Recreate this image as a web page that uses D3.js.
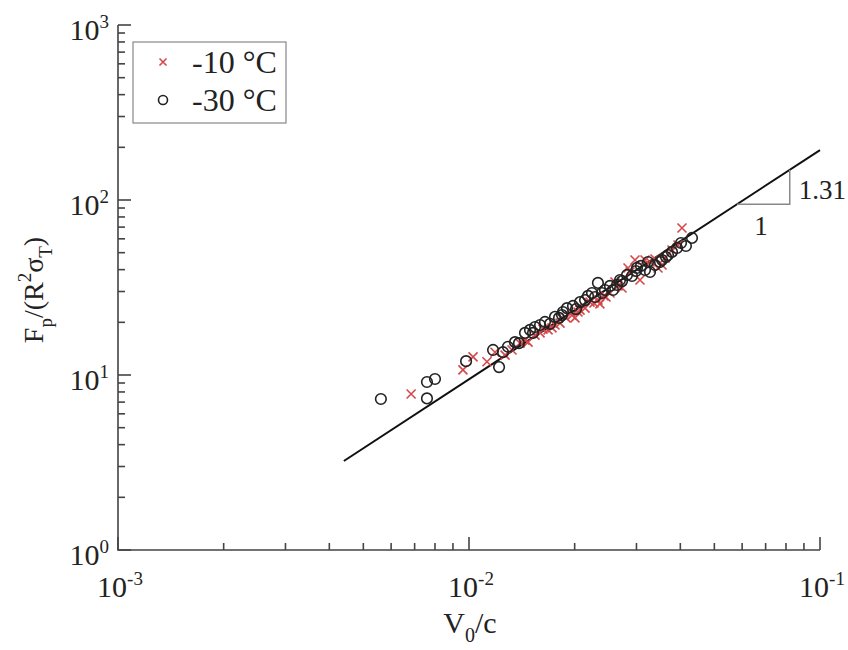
<!DOCTYPE html>
<html>
<head>
<meta charset="utf-8">
<script src="https://cdn.jsdelivr.net/npm/d3@7"></script>
<style>
  body { margin: 0; background: #fff; }
  svg text { font-family: "Liberation Serif", "Times New Roman", serif; fill: #222; }
</style>
</head>
<body>
<div id="chart"></div>
<script>
// -10 °C points [V0/c, Fp/(R^2 sigmaT)]
const warmPts = [
  [0.00684, 7.79], [0.00961, 10.7], [0.01027, 12.7], [0.01125, 11.9], [0.01186, 13.5],
  [0.01267, 13.0], [0.01326, 13.9], [0.01397, 15.2], [0.01444, 15.8], [0.01473, 15.4],
  [0.01542, 16.9], [0.01594, 17.4], [0.01625, 18.3], [0.01680, 18.1], [0.01724, 18.6],
  [0.01758, 19.3], [0.01817, 19.8], [0.01890, 21.2], [0.01965, 22.0], [0.02004, 21.2],
  [0.02044, 22.9], [0.02072, 23.5], [0.02141, 24.1], [0.02212, 26.1], [0.02270, 25.8],
  [0.02330, 26.8], [0.02360, 25.5], [0.02424, 28.3], [0.02457, 27.9], [0.02522, 29.4],
  [0.02606, 34.0], [0.02658, 32.3], [0.02729, 31.4], [0.02838, 40.9], [0.02875, 38.8],
  [0.02971, 45.4], [0.03070, 34.9], [0.03173, 45.4], [0.03279, 44.2], [0.03388, 46.0],
  [0.03455, 40.9], [0.03548, 42.5], [0.03617, 46.6], [0.03787, 51.8], [0.03939, 55.3],
  [0.04044, 69.2]
]
// -30 °C points
const coldPts = [
  [0.00561, 7.29], [0.00759, 9.12], [0.00800, 9.49], [0.00759, 7.35], [0.00981, 12.0],
  [0.01171, 13.9], [0.01218, 11.1], [0.01250, 13.5], [0.01291, 14.5], [0.01352, 15.4],
  [0.01388, 15.2], [0.01444, 17.4], [0.01492, 18.1], [0.01522, 17.4], [0.01542, 18.8],
  [0.01594, 19.3], [0.01646, 20.1], [0.01701, 19.6], [0.01758, 21.5], [0.01805, 21.2],
  [0.01841, 22.0], [0.01852, 22.9], [0.01902, 24.1], [0.01978, 24.8], [0.02018, 23.8],
  [0.02072, 26.1], [0.02141, 26.8], [0.02183, 28.3], [0.02241, 29.4], [0.02286, 27.9],
  [0.02330, 33.6], [0.02392, 29.4], [0.02440, 30.6], [0.02522, 32.3], [0.02572, 30.6],
  [0.02640, 32.7], [0.02693, 34.9], [0.02729, 34.4], [0.02819, 37.3], [0.02913, 36.8],
  [0.02990, 39.3], [0.03010, 40.9], [0.03090, 42.0], [0.03173, 39.8], [0.03236, 44.2],
  [0.03279, 38.8], [0.03388, 42.5], [0.03501, 44.2], [0.03548, 45.4], [0.03641, 47.2],
  [0.03690, 48.5], [0.03787, 50.5], [0.03914, 53.2], [0.04018, 56.8], [0.04150, 54.6],
  [0.04318, 60.7]
]
// power-law fit  y = fitCoef * x^fitSlope
const fitCoef = 3940, fitSlope = 1.31
const fitRange = [0.0044, 0.1]
const triRange = [0.058, 0.082]

const xMajor = [1e-3, 1e-2, 1e-1], xExp = ["-3", "-2", "-1"]
const yMajor = [1, 10, 100, 1000], yExp = ["0", "1", "2", "3"]
const legendLabels = ["-10 °C", "-30 °C"]

const W = 848, H = 650
const mLeft = 118, mRight = 820, mTop = 25, mBottom = 550

const svg = d3.select("#chart").append("svg")
  .attr("width", W).attr("height", H)
  .attr("font-family", "Liberation Serif, serif")

const x = d3.scaleLog().domain([1e-3, 1e-1]).range([mLeft, mRight])
const y = d3.scaleLog().domain([1, 1000]).range([mBottom, mTop])

const isMajor = v => Math.abs(Math.log10(v) - Math.round(Math.log10(v))) < 1e-9
const xTicks = x.ticks(20)
const yTicks = y.ticks(30)

const axisColor = "#444"

// axis lines (left + bottom only)
svg.append("path")
  .attr("d", `M${mLeft},${mTop}V${mBottom}H${mRight}`)
  .attr("fill", "none").attr("stroke", axisColor).attr("stroke-width", 1.6)

// inward ticks: long for decades, short for the rest
const ticks = svg.append("g").attr("stroke", axisColor).attr("stroke-width", 1.6)
ticks.selectAll("line.xt")
  .data(xTicks)
  .enter().append("line")
  .attr("class", "xt")
  .attr("x1", d => x(d)).attr("x2", d => x(d))
  .attr("y1", mBottom).attr("y2", d => mBottom - (isMajor(d) ? 13 : 7))
ticks.selectAll("line.yt")
  .data(yTicks)
  .enter().append("line")
  .attr("class", "yt")
  .attr("y1", d => y(d)).attr("y2", d => y(d))
  .attr("x1", mLeft).attr("x2", d => mLeft + (isMajor(d) ? 13 : 7))

// tick labels with superscripts
xMajor.forEach((v, i) => {
  const t = svg.append("text")
    .attr("x", x(v) + 2).attr("y", mBottom + 47)
    .attr("text-anchor", "middle").style("font-size", "30px")
  t.append("tspan").text("10")
  t.append("tspan").attr("dy", -12).style("font-size", "19px").text(xExp[i])
})
yMajor.forEach((v, i) => {
  const t = svg.append("text")
    .attr("x", mLeft - 9).attr("y", y(v) + 15)
    .attr("text-anchor", "end").style("font-size", "30px")
  t.append("tspan").text("10")
  t.append("tspan").attr("dy", -12).style("font-size", "19px").text(yExp[i])
})

// axis titles
const xt = svg.append("text")
  .attr("x", 470).attr("y", 633)
  .attr("text-anchor", "middle").style("font-size", "30px")
xt.append("tspan").text("V")
xt.append("tspan").attr("dy", 9).style("font-size", "20px").text("0")
xt.append("tspan").attr("dy", -9).text("/c")

const yt = svg.append("text")
  .attr("transform", "translate(43,290) rotate(-90)")
  .attr("text-anchor", "middle").style("font-size", "28px")
yt.append("tspan").text("F")
yt.append("tspan").attr("dy", 9).style("font-size", "19px").text("p")
yt.append("tspan").attr("dy", -9).text("/(R")
yt.append("tspan").attr("dy", -12).style("font-size", "19px").text("2")
yt.append("tspan").attr("dy", 12).text("σ")
yt.append("tspan").attr("dy", 9).style("font-size", "19px").text("T")
yt.append("tspan").attr("dy", -9).text(")")

// fit line
const fit = v => fitCoef * Math.pow(v, fitSlope)
svg.append("line")
  .attr("x1", x(fitRange[0])).attr("y1", y(fit(fitRange[0])))
  .attr("x2", x(fitRange[1])).attr("y2", y(fit(fitRange[1])))
  .attr("stroke", "#111").attr("stroke-width", 2)

// slope triangle
svg.append("path")
  .attr("d", `M${x(triRange[0])},${y(fit(triRange[0]))}H${x(triRange[1])}V${y(fit(triRange[1]))}`)
  .attr("fill", "none").attr("stroke", "#888").attr("stroke-width", 1.5)
svg.append("text").attr("x", x(triRange[1]) + 9).attr("y", 199)
  .style("font-size", "27px").text("1.31")
svg.append("text").attr("x", 761).attr("y", 235)
  .attr("text-anchor", "middle").style("font-size", "27px").text("1")

// markers
const red = "#d6474a"
const cross = (g, cx, cy, s) => {
  g.append("path")
    .attr("d", `M${cx - s},${cy - s}L${cx + s},${cy + s}M${cx - s},${cy + s}L${cx + s},${cy - s}`)
    .attr("stroke", red).attr("stroke-width", 1.6).attr("fill", "none")
}
const gWarm = svg.append("g")
warmPts.forEach(d => cross(gWarm, x(d[0]), y(d[1]), 4.5))

svg.append("g").selectAll("circle")
  .data(coldPts)
  .enter().append("circle")
  .attr("cx", d => x(d[0]))
  .attr("cy", d => y(d[1]))
  .attr("r", 5.3)
  .attr("fill", "none")
  .attr("stroke", "#222")
  .attr("stroke-width", 1.6)

// legend
const legend = svg.append("g")
legend.append("rect")
  .attr("x", 133).attr("y", 42).attr("width", 153).attr("height", 81)
  .attr("fill", "#fff").attr("stroke", "#888").attr("stroke-width", 1.2)
cross(legend, 163, 62, 3.5)
legend.append("circle").attr("cx", 163).attr("cy", 100).attr("r", 4.5)
  .attr("fill", "none").attr("stroke", "#222").attr("stroke-width", 1.6)
legend.selectAll("text.lab")
  .data(legendLabels)
  .enter().append("text")
  .attr("class", "lab")
  .attr("x", 192)
  .attr("y", (d, i) => 73 + i * 38)
  .style("font-size", "32px")
  .text(d => d)
</script>
</body>
</html>
